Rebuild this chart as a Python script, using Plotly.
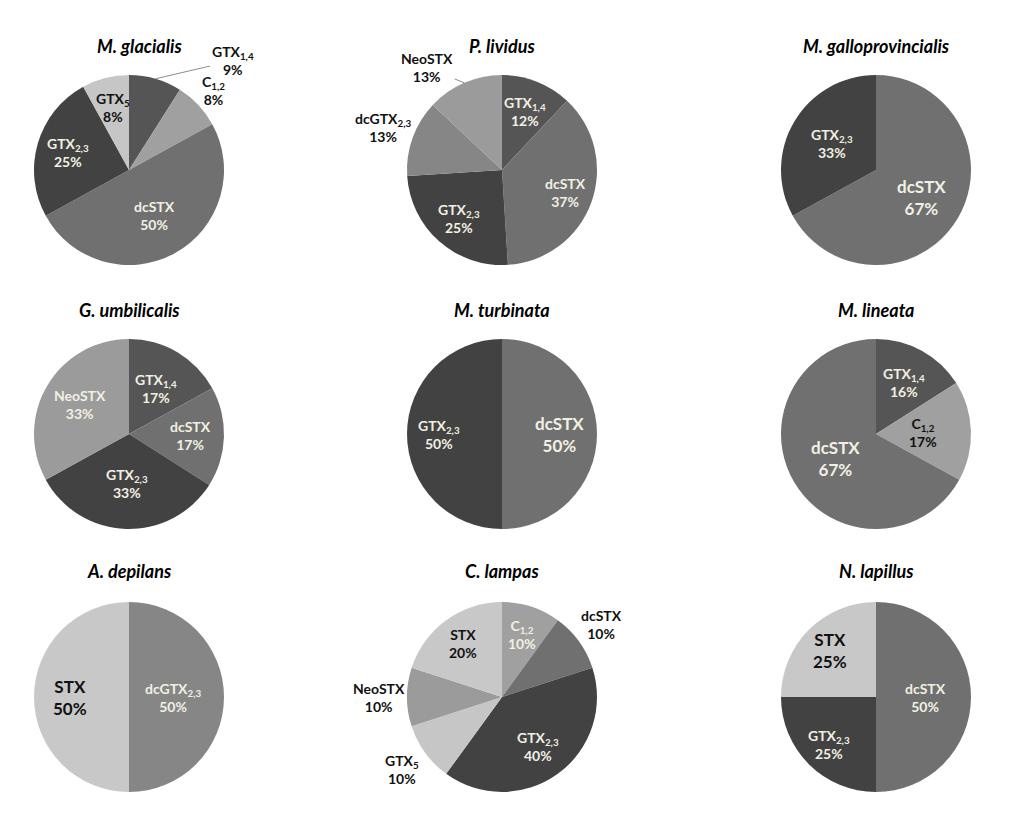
import math
import plotly.graph_objects as go

# Toxin profiles (%) per species, slices listed clockwise from 12 o'clock
species = ["M. glacialis", "P. lividus", "M. galloprovincialis",
           "G. umbilicalis", "M. turbinata", "M. lineata",
           "A. depilans", "C. lampas", "N. lapillus"]

glacialis_toxins = ["GTX1,4", "C1,2", "dcSTX", "GTX2,3", "GTX5"]
glacialis_pct = [9, 8, 50, 25, 8]

lividus_toxins = ["GTX1,4", "dcSTX", "GTX2,3", "dcGTX2,3", "NeoSTX"]
lividus_pct = [12, 37, 25, 13, 13]

galloprovincialis_toxins = ["dcSTX", "GTX2,3"]
galloprovincialis_pct = [67, 33]

umbilicalis_toxins = ["GTX1,4", "dcSTX", "GTX2,3", "NeoSTX"]
umbilicalis_pct = [17, 17, 33, 33]

turbinata_toxins = ["dcSTX", "GTX2,3"]
turbinata_pct = [50, 50]

lineata_toxins = ["GTX1,4", "C1,2", "dcSTX"]
lineata_pct = [16, 17, 67]

depilans_toxins = ["dcGTX2,3", "STX"]
depilans_pct = [50, 50]

lampas_toxins = ["C1,2", "dcSTX", "GTX2,3", "GTX5", "NeoSTX", "STX"]
lampas_pct = [10, 10, 40, 10, 10, 20]

lapillus_toxins = ["dcSTX", "GTX2,3", "STX"]
lapillus_pct = [50, 25, 25]

profiles = [
    (glacialis_toxins, glacialis_pct),
    (lividus_toxins, lividus_pct),
    (galloprovincialis_toxins, galloprovincialis_pct),
    (umbilicalis_toxins, umbilicalis_pct),
    (turbinata_toxins, turbinata_pct),
    (lineata_toxins, lineata_pct),
    (depilans_toxins, depilans_pct),
    (lampas_toxins, lampas_pct),
    (lapillus_toxins, lapillus_pct),
]

# ---- styling ----
fill = {"GTX1,4": "#555555", "C1,2": "#a0a0a0", "dcSTX": "#707070",
        "GTX2,3": "#424242", "GTX5": "#c6c6c6", "NeoSTX": "#9b9b9b",
        "dcGTX2,3": "#868686", "STX": "#c8c8c8"}
light_txt = "#f2f0e2"
dark_txt = "#111111"
FONT = "Lato"

# label distance from centre, as a fraction of the radius
label_r = {
    (0, "GTX1,4"): 1.0, (0, "C1,2"): 1.22, (0, "dcSTX"): 0.55,
    (0, "GTX2,3"): 0.67, (0, "GTX5"): 0.68,
    (1, "GTX1,4"): 0.66, (1, "dcSTX"): 0.71, (1, "GTX2,3"): 0.68,
    (1, "dcGTX2,3"): 1.33, (1, "NeoSTX"): 1.0,
    (2, "dcSTX"): 0.56, (2, "GTX2,3"): 0.54,
    (3, "GTX1,4"): 0.56, (3, "dcSTX"): 0.65, (3, "GTX2,3"): 0.52,
    (3, "NeoSTX"): 0.6,
    (4, "dcSTX"): 0.61, (4, "GTX2,3"): 0.66,
    (5, "GTX1,4"): 0.62, (5, "C1,2"): 0.5, (5, "dcSTX"): 0.5,
    (6, "dcGTX2,3"): 0.46, (6, "STX"): 0.62,
    (7, "C1,2"): 0.69, (7, "dcSTX"): 1.3, (7, "GTX2,3"): 0.65,
    (7, "GTX5"): 1.3, (7, "NeoSTX"): 1.3, (7, "STX"): 0.7,
    (8, "dcSTX"): 0.52, (8, "GTX2,3"): 0.7, (8, "STX"): 0.69,
}
# labels pulled away with a leader line (text offset in px)
leader = {(0, "GTX1,4"): (77, -18), (1, "NeoSTX"): (-37, -15)}
outside = {(0, "GTX1,4"), (0, "C1,2"), (1, "dcGTX2,3"), (1, "NeoSTX"),
           (7, "dcSTX"), (7, "GTX5"), (7, "NeoSTX")}
big = {(2, "dcSTX"), (4, "dcSTX"), (5, "dcSTX"), (6, "STX"), (8, "STX")}
dark_inside = {"STX", "GTX5", "C1,2"}


def pretty(name):
    for base in ["dcGTX", "GTX", "C"]:
        rest = name[len(base):]
        if name.startswith(base) and rest and rest[0].isdigit():
            return base + "<sub>" + rest + "</sub>"
    return name


# page body keeps an 8px margin, so the figure is drawn 8px in
OFF = 8
W, H = 1024 - 2 * OFF, 815 - 2 * OFF
cxs = [129, 502, 876]
cys = [170, 434, 697]
R = 95
title_y = [46, 310, 571]
title_dx = [10, 0, 0, 0, 0, 0, 0, 0, 0]


def px(x):
    return (x - OFF) / W


def py(y):
    return 1 - (y - OFF) / H


fig = go.Figure()
annotations = []
for i, (name, (tox, pct)) in enumerate(zip(species, profiles)):
    cx, cy = cxs[i % 3], cys[i // 3]
    fig.add_trace(go.Pie(
        labels=[pretty(t) for t in tox],
        values=pct,
        sort=False,
        direction="clockwise",
        rotation=0,
        marker=dict(colors=[fill[t] for t in tox], line=dict(width=0)),
        textinfo="none",
        showlegend=False,
        hoverinfo="label+value",
        domain=dict(x=[px(cx - R), px(cx + R)], y=[py(cy + R), py(cy - R)]),
    ))

    total = sum(pct)
    acc = 0
    for t, v in zip(tox, pct):
        mid = (acc + v / 2) / total * 2 * math.pi
        acc += v
        key = (i, t)
        f = label_r.get(key, 0.6)
        lx = cx + f * R * math.sin(mid)
        ly = cy - f * R * math.cos(mid)
        if key in outside or (t in dark_inside and not (i == 7 and t == "C1,2")):
            col = dark_txt
        else:
            col = light_txt
        size = 17 if key in big else 14
        ann = dict(
            text="<b>" + pretty(t) + "<br>" + str(v) + "%</b>",
            x=px(lx), y=py(ly), xref="paper", yref="paper",
            xanchor="center", yanchor="middle", align="center",
            font=dict(family=FONT, size=size, color=col),
            showarrow=False,
        )
        if key in leader:
            ax, ay = leader[key]
            ann.update(showarrow=True, arrowhead=0, arrowwidth=1,
                       arrowcolor="#8c8c8c", ax=ax, ay=ay, standoff=0)
        annotations.append(ann)

    annotations.append(dict(
        text="<b><i>" + name + "</i></b>",
        x=px(cx + title_dx[i]), y=py(title_y[i // 3]),
        xref="paper", yref="paper", showarrow=False, xanchor="center",
        yanchor="middle", font=dict(family=FONT, size=18, color="#000000"),
    ))

fig.update_layout(
    width=W, height=H,
    margin=dict(l=0, r=0, t=0, b=0),
    paper_bgcolor="white",
    annotations=annotations,
)

fig.write_html("out.html")
